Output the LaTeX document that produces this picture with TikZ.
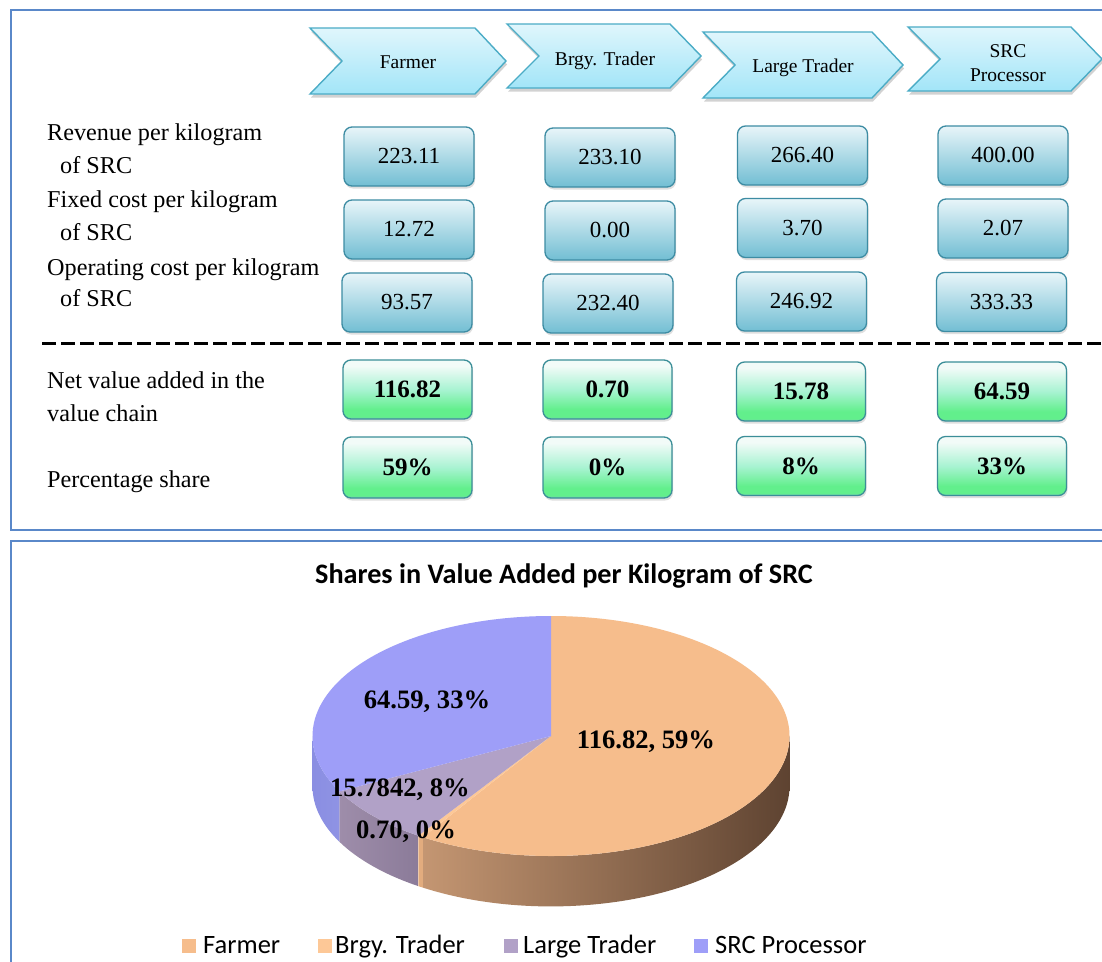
\documentclass[tikz,border=0pt]{standalone}
\usepackage{fontspec}
\setmainfont{Liberation Serif}
\newfontfamily\calib{Carlito}
\usetikzlibrary{shadows}
\definecolor{framec}{HTML}{5A88C9}
\definecolor{chevtop}{HTML}{E0F6FC}
\definecolor{chevbot}{HTML}{A2E5F8}
\definecolor{chevbd}{HTML}{4BACC6}
\definecolor{bluetop}{HTML}{E8F5F9}
\definecolor{bluebot}{HTML}{72BED3}
\definecolor{bluebd}{HTML}{3D8CA3}
\definecolor{gtop}{HTML}{F2FBF8}
\definecolor{gmid}{HTML}{A8F3D2}
\definecolor{gbright}{HTML}{62EF8C}
\definecolor{gbot}{HTML}{7BC6BD}
\definecolor{gbd}{HTML}{3B8E98}
\definecolor{farmerc}{HTML}{F6BD8C}
\definecolor{brgyc}{HTML}{FDC897}
\definecolor{largec}{HTML}{B1A1C7}
\definecolor{srcc}{HTML}{9E9EF8}
\definecolor{fsideL}{HTML}{C49672}
\definecolor{fsideM}{HTML}{87664C}
\definecolor{fsideR}{HTML}{5E4331}
\definecolor{bside}{HTML}{E2AC7E}
\definecolor{lsideL}{HTML}{9E8DAA}
\definecolor{lsideR}{HTML}{8B7B99}
\definecolor{ssideL}{HTML}{8A8EE2}
\definecolor{ssideR}{HTML}{8F93E4}
\pgfdeclareverticalshading{greenbox}{100bp}{color(0bp)=(gbot); color(25bp)=(gbot); color(27bp)=(gbright); color(33bp)=(gbright); color(50bp)=(gmid); color(70bp)=(gtop); color(100bp)=(gtop)}
\tikzset{
  frame/.style={draw=framec, line width=2.5pt},
  chev/.style={draw=chevbd, line width=1.4pt, top color=chevtop, bottom color=chevbot,
    drop shadow={shadow xshift=1pt, shadow yshift=-3.5pt, opacity=0.35}},
  chevtext/.style={font=\fontsize{19.5}{23}\selectfont, align=center, inner sep=0pt},
  rowlabel/.style={font=\fontsize{24.2}{28}\selectfont, anchor=base west, inner sep=0pt},
  bluebox/.style={draw=bluebd, line width=1.3pt, rounded corners=8pt, top color=bluetop, bottom color=bluebot,
    drop shadow={shadow xshift=1pt, shadow yshift=-2.5pt, opacity=0.25},
    minimum width=130pt, minimum height=59pt, inner sep=0pt, font=\fontsize{23}{23}\selectfont},
  greenbox/.style={draw=gbd, line width=1.3pt, rounded corners=8pt, shading=greenbox,
    drop shadow={shadow xshift=1pt, shadow yshift=-2.5pt, opacity=0.25},
    minimum width=129pt, minimum height=59pt, inner sep=0pt, font=\bfseries\fontsize{25}{25}\selectfont},
  pielabel/.style={font=\bfseries\fontsize{26.6}{26}\selectfont, anchor=base, inner sep=0pt},
  legsq/.style={minimum size=14pt, inner sep=0pt, anchor=north west},
  legtext/.style={font=\calib\fontsize{26.5}{26}\selectfont, anchor=base west, inner sep=0pt},
}
\newcommand\chevronshape[4]{%
  \path[chev] (#1,#2) -- ({#1+#3-31},#2) -- ({#1+#3},{#2+#4/2}) -- ({#1+#3-31},{#2+#4}) -- (#1,{#2+#4}) -- ({#1+32},{#2+#4/2}) -- cycle;}
\begin{document}
\begin{tikzpicture}[x=1pt,y=-1pt]
\useasboundingbox (0,0) rectangle (1102,961);
\clip (0,0) rectangle (1102,961);
\fill[white] (0,0) rectangle (1102,961);
% frames
\draw[frame] (11,10) rectangle (1120,530);
\draw[frame] (11,541) rectangle (1120,985);
% chevrons
\chevronshape{310}{28}{196}{66}
\chevronshape{507}{24}{194}{64}
\chevronshape{703}{32}{200}{66}
\chevronshape{908}{27}{194}{64}
\node[chevtext, anchor=base] (farmer) at (408,68) {Farmer};
\node[chevtext, anchor=base] (brgy) at (605,65) {Brgy. Trader};
\node[chevtext, anchor=base] (large) at (803,72) {Large Trader};
\node[chevtext, anchor=base] (src1) at (1008,57) {SRC};
\node[chevtext, anchor=base] (src2) at (1008,81) {Processor};
% row labels
\node[rowlabel] (l1a) at (47,140) {Revenue per kilogram};
\node[rowlabel] (l1b) at (60,173) {of SRC};
\node[rowlabel] (l2a) at (47,207) {Fixed cost per kilogram};
\node[rowlabel] (l2b) at (60,240) {of SRC};
\node[rowlabel] (l3a) at (47,275) {Operating cost per kilogram};
\node[rowlabel] (l3b) at (60,306) {of SRC};
\node[rowlabel] (l4a) at (47,388) {Net value added in the};
\node[rowlabel] (l4b) at (47,421) {value chain};
\node[rowlabel] (l5) at (47,487) {Percentage share};
% blue boxes
\node[bluebox] (r1c1) at (409,156.5) {223.11};
\node[bluebox] (r1c2) at (610,157.5) {233.10};
\node[bluebox] (r1c3) at (802.5,155.5) {266.40};
\node[bluebox] (r1c4) at (1003,155.5) {400.00};
\node[bluebox] (r2c1) at (409,229.5) {12.72};
\node[bluebox] (r2c2) at (610,230.5) {0.00};
\node[bluebox] (r2c3) at (802.5,228) {3.70};
\node[bluebox] (r2c4) at (1003,228.5) {2.07};
\node[bluebox] (r3c1) at (407,302.5) {93.57};
\node[bluebox] (r3c2) at (608,303.5) {232.40};
\node[bluebox] (r3c3) at (801.5,301.5) {246.92};
\node[bluebox] (r3c4) at (1001.5,302) {333.33};
% dashed separator
\coordinate (dl) at (42,343);
\coordinate (dr) at (1110,343);
\draw[line width=3pt, dash pattern=on 14pt off 5pt] (dl) -- (dr);
% green boxes
\node[greenbox] (r4c1) at (407.5,389.5) {116.82};
\node[greenbox] (r4c2) at (607.5,389.5) {0.70};
\node[greenbox] (r4c3) at (801,391.5) {15.78};
\node[greenbox] (r4c4) at (1002,391.5) {64.59};
\node[greenbox, minimum height=61pt] (r5c1) at (407.5,467.5) {59\%};
\node[greenbox, minimum height=61pt] (r5c2) at (607.5,467.5) {0\%};
\node[greenbox] (r5c3) at (801,466) {8\%};
\node[greenbox] (r5c4) at (1002,466) {33\%};
% chart title
\node[font=\calib\bfseries\fontsize{28.2}{28}\selectfont, anchor=base, inner sep=0pt] (title) at (564,583) {Shares in Value Added per Kilogram of SRC};
% pie
\begin{scope}[shift={(551,736)}, x=238.5pt, y=120pt]
  \def\dd{0.42}
  \shade[left color=fsideL, middle color=fsideM, right color=fsideR]
    (0:1) arc[start angle=0, end angle=-122.5, x radius=1, y radius=1] -- ++(0,-\dd)
    arc[start angle=-122.5, end angle=0, x radius=1, y radius=1] -- cycle;
  \fill[bside]
    (-122.5:1) arc[start angle=-122.5, end angle=-123.8, x radius=1, y radius=1] -- ++(0,-\dd)
    arc[start angle=-123.8, end angle=-122.5, x radius=1, y radius=1] -- cycle;
  \shade[left color=lsideL, right color=lsideR]
    (-123.8:1) arc[start angle=-123.8, end angle=-152.5, x radius=1, y radius=1] -- ++(0,-\dd)
    arc[start angle=-152.5, end angle=-123.8, x radius=1, y radius=1] -- cycle;
  \shade[left color=ssideL, right color=ssideR]
    (-152.5:1) arc[start angle=-152.5, end angle=-180, x radius=1, y radius=1] -- ++(0,-\dd)
    arc[start angle=-180, end angle=-152.5, x radius=1, y radius=1] -- cycle;
  \fill[farmerc] (0,0) -- (90:1) arc[start angle=90, end angle=-122.5, x radius=1, y radius=1] -- cycle;
  \fill[brgyc] (0,0) -- (-122.5:1) arc[start angle=-122.5, end angle=-123.8, x radius=1, y radius=1] -- cycle;
  \fill[largec] (0,0) -- (-123.8:1) arc[start angle=-123.8, end angle=-152.5, x radius=1, y radius=1] -- cycle;
  \fill[srcc] (0,0) -- (-152.5:1) arc[start angle=-152.5, end angle=-270, x radius=1, y radius=1] -- cycle;
\end{scope}
\node[pielabel] (p1) at (646,748) {116.82, 59\%};
\node[pielabel] (p4) at (427,708) {64.59, 33\%};
\node[pielabel] (p3) at (400,796) {15.7842, 8\%};
\node[pielabel] (p2) at (406,838) {0.70, 0\%};
% legend
\node[legsq, fill=farmerc] (sq1) at (182,939) {};
\node[legtext] (t1) at (203,953) {Farmer};
\node[legsq, fill=brgyc] (sq2) at (318,939) {};
\node[legtext] (t2) at (335,953) {Brgy. Trader};
\node[legsq, fill=largec] (sq3) at (504,939) {};
\node[legtext] (t3) at (523,953) {Large Trader};
\node[legsq, fill=srcc] (sq4) at (694,939) {};
\node[legtext] (t4) at (715,953) {SRC Processor};
\end{tikzpicture}
\end{document}
